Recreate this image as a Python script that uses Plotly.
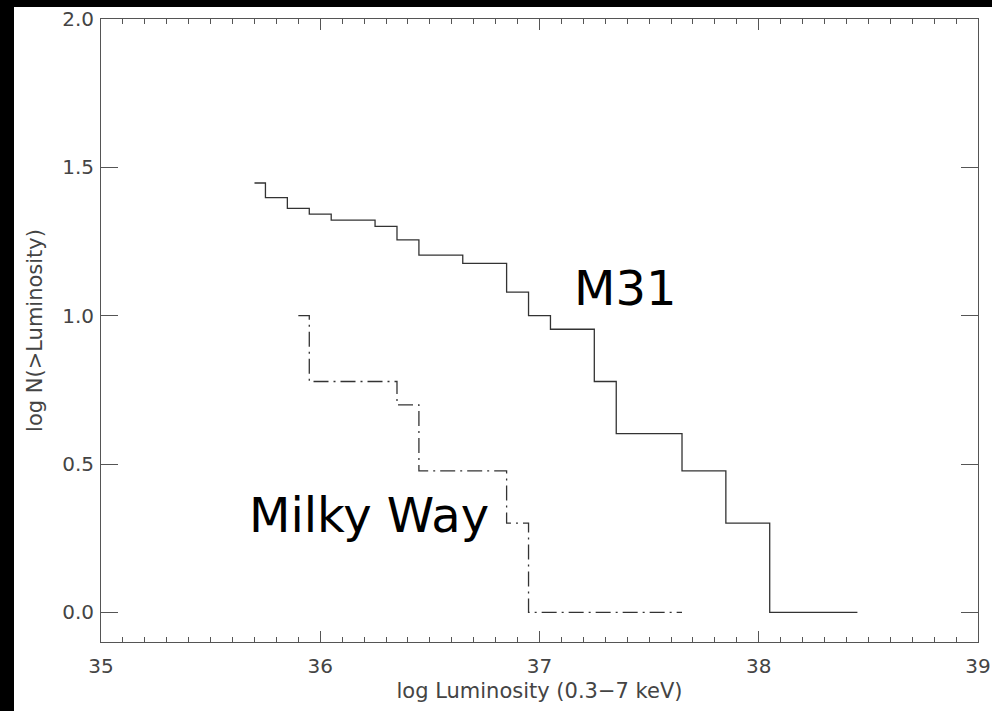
import numpy as np
import plotly.graph_objects as go

# ---- data ----
m31_lum_edges = [35.70, 35.75, 35.85, 35.95, 36.05, 36.25, 36.35, 36.45, 36.65,
                 36.85, 36.95, 37.05, 37.25, 37.35, 37.65, 37.85, 38.05, 38.45]
m31_counts = [28, 25, 23, 22, 21, 20, 18, 16, 15, 12, 10, 9, 6, 4, 3, 2, 1, 1]

mw_lum_edges = [35.90, 35.95, 36.35, 36.45, 36.85, 36.95, 37.65]
mw_counts = [10, 6, 5, 3, 2, 1, 1]

x_tick_vals = [35, 36, 37, 38, 39]
x_tick_text = ["35", "36", "37", "38", "39"]
y_tick_vals = [0.0, 0.5, 1.0, 1.5, 2.0]
y_tick_text = ["0.0", "0.5", "1.0", "1.5", "2.0"]

labels = ["M31", "Milky Way"]
label_x = [37.155, 35.672]
label_y = [1.094, 0.327]

m31_logN = np.log10(m31_counts)
mw_logN = np.log10(mw_counts)

LINE = "#333333"
AX = "#555555"
TXT = "#444444"
FONT = "DejaVu Sans"

fig = go.Figure()
fig.add_trace(go.Scatter(x=m31_lum_edges, y=m31_logN, mode="lines",
                         line=dict(shape="hv", color=LINE, width=1.3),
                         showlegend=False, hoverinfo="skip"))
fig.add_trace(go.Scatter(x=mw_lum_edges, y=mw_logN, mode="lines",
                         line=dict(shape="hv", color=LINE, width=1.3,
                                   dash="15px,5px,2px,5px"),
                         showlegend=False, hoverinfo="skip"))

for t, xx, yy in zip(labels, label_x, label_y):
    fig.add_annotation(x=xx, y=yy, xref="x", yref="y", text=t, showarrow=False,
                       xanchor="left", yanchor="middle", borderpad=0,
                       font=dict(family=FONT, size=48, color="black"))

W, H = 992, 711
L, R, T, B = 101, 14, 19, 69
pw, ph = W - L - R, H - T - B

# black border strips (left and top) from the reference image
fig.add_shape(type="rect", xref="paper", yref="paper",
              x0=(0 - L) / pw, x1=(14 - L) / pw, y0=(T - H) / ph, y1=1 + T / ph,
              fillcolor="black", line=dict(width=0), layer="above")
fig.add_shape(type="rect", xref="paper", yref="paper",
              x0=(0 - L) / pw, x1=(W - L) / pw, y0=1 + (T - 7) / ph, y1=1 + T / ph,
              fillcolor="black", line=dict(width=0), layer="above")

fig.update_layout(
    width=W, height=H,
    margin=dict(l=L, r=R, t=T, b=B, pad=0),
    paper_bgcolor="white", plot_bgcolor="white",
    font=dict(family=FONT, color=TXT),
    xaxis=dict(range=[35, 39], tickmode="array", tickvals=x_tick_vals,
               ticktext=x_tick_text, ticks="inside", ticklen=11, tickwidth=1,
               tickcolor=AX, showline=True, linecolor=AX, linewidth=1,
               mirror="ticks", showgrid=False, zeroline=False,
               tickfont=dict(size=20, color=TXT), ticklabelstandoff=6,
               minor=dict(dtick=0.1, tick0=35, ticks="inside", ticklen=5,
                          tickcolor=AX, tickwidth=1, showgrid=False),
               title=dict(text="log Luminosity (0.3\u22127 keV)",
                          font=dict(size=21, color=TXT), standoff=6),
               automargin=False),
    yaxis=dict(range=[-0.1, 2.0], tickmode="array", tickvals=y_tick_vals,
               ticktext=y_tick_text, ticks="inside", ticklen=17, tickwidth=1,
               tickcolor=AX, showline=True, linecolor=AX, linewidth=1,
               mirror="ticks", showgrid=False, zeroline=False,
               tickfont=dict(size=20, color=TXT), ticklabelstandoff=2,
               title=dict(text="log N(>Luminosity)",
                          font=dict(size=21, color=TXT), standoff=13),
               automargin=False),
)

fig.write_html("out.html")
